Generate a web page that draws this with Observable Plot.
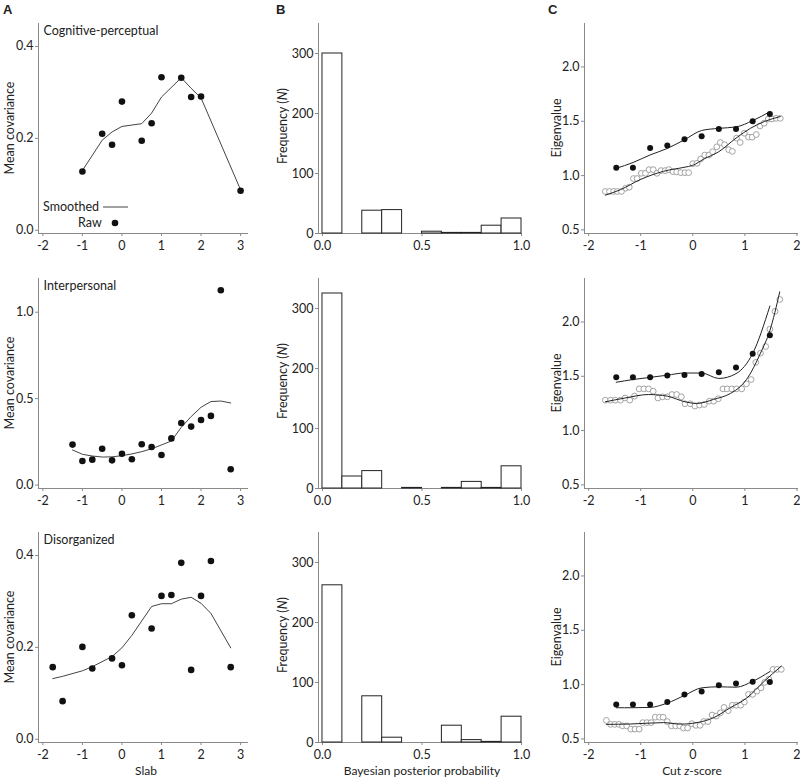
<!DOCTYPE html>
<html><head><meta charset="utf-8">
<script src="https://cdn.jsdelivr.net/npm/d3@7"></script>
<script src="https://cdn.jsdelivr.net/npm/@observablehq/plot@0.6"></script>
<style>
body{margin:0;background:#fff;}
#wrap{position:relative;width:800px;height:778px;overflow:hidden;font-family:Lato,sans-serif;color:#222;background:#fff;}
.lbl{position:absolute;font-size:12.5px;white-space:nowrap;transform:translate(-50%,-50%);line-height:1;}
.xl{font-size:12px;}
.rot{transform:translate(-50%,-50%) rotate(-90deg);}
.letter{position:absolute;font:bold 13px "Liberation Sans",Arial,sans-serif;line-height:1;}
.leg{position:absolute;font-size:12.5px;line-height:1;transform:translateY(-50%);white-space:nowrap;}
</style></head><body><div id="wrap"></div>
<script>
// ---------- Column A: mean covariance by slab ----------
const titlesA = ["Cognitive-perceptual", "Interpersonal", "Disorganized"];
const slabA1 = [-1, -0.5, -0.25, 0, 0.5, 0.75, 1, 1.5, 1.75, 2, 3];
const rawA1 = [0.128, 0.21, 0.186, 0.28, 0.195, 0.233, 0.333, 0.332, 0.29, 0.291, 0.086];
const smoothA1 = [0.13, 0.196, 0.214, 0.226, 0.232, 0.255, 0.29, 0.332, 0.309, 0.288, 0.088];

const slabA2 = [-1.25, -1, -0.75, -0.5, -0.25, 0, 0.25, 0.5, 0.75, 1, 1.25, 1.5, 1.75, 2, 2.25, 2.5, 2.75];
const rawA2 = [0.234, 0.139, 0.147, 0.21, 0.143, 0.181, 0.149, 0.236, 0.22, 0.174, 0.27, 0.359, 0.338, 0.376, 0.4, 1.127, 0.091];
const smoothA2 = [0.203, 0.178, 0.168, 0.162, 0.163, 0.17, 0.18, 0.193, 0.21, 0.232, 0.255, 0.334, 0.396, 0.45, 0.483, 0.486, 0.475];

const slabA3 = [-1.75, -1.5, -1, -0.75, -0.25, 0, 0.25, 0.75, 1, 1.25, 1.5, 1.75, 2, 2.25, 2.75];
const rawA3 = [0.157, 0.083, 0.201, 0.154, 0.176, 0.161, 0.27, 0.241, 0.312, 0.314, 0.384, 0.151, 0.312, 0.388, 0.157];
const smoothA3 = [0.132, 0.137, 0.149, 0.158, 0.18, 0.199, 0.226, 0.289, 0.295, 0.295, 0.305, 0.309, 0.296, 0.274, 0.199];

const ticksA_x = [-2, -1, 0, 1, 2, 3];
const ticksA1_y = [0, 0.2, 0.4];
const ticksA2_y = [0, 0.5, 1.0];
const ticksA3_y = [0, 0.2, 0.4];

// ---------- Column B: histograms of Bayesian posterior probability ----------
const binStart = [0, 0.1, 0.2, 0.3, 0.4, 0.5, 0.6, 0.7, 0.8, 0.9];
const binWidth = 0.1;
const freqB1 = [300, 0, 38, 39, 0, 3, 1, 1, 13, 25];
const freqB2 = [325, 20, 29, 0, 1, 0, 1, 11, 1, 37];
const freqB3 = [262, 0, 77, 8, 0, 0, 28, 4, 1, 43];
const ticksB_x = [0, 0.5, 1.0];
const ticksB_y = [0, 100, 200, 300];

// ---------- Column C: eigenvalue by cut z-score ----------
const cutFilled = [-1.47, -1.15, -0.82, -0.49, -0.16, 0.17, 0.5, 0.83, 1.15, 1.48];
const eigFilledC1 = [1.073, 1.073, 1.253, 1.277, 1.335, 1.363, 1.43, 1.43, 1.5, 1.567];
const smoothFilledC1 = [1.067, 1.12, 1.19, 1.25, 1.33, 1.415, 1.435, 1.448, 1.506, 1.588];
const eigFilledC2 = [1.49, 1.49, 1.49, 1.506, 1.512, 1.52, 1.537, 1.58, 1.707, 1.878];
const smoothFilledC2 = [1.445, 1.47, 1.49, 1.51, 1.53, 1.53, 1.48, 1.524, 1.71, 2.146];
const eigFilledC3 = [0.817, 0.817, 0.817, 0.84, 0.909, 0.936, 0.994, 1.009, 1.027, 1.024];
const smoothFilledC3 = [0.787, 0.787, 0.79, 0.83, 0.9, 0.97, 0.98, 0.976, 1.03, 1.12];

const cutOpenC1 = [-1.68,-1.6,-1.52,-1.45,-1.37,-1.29,-1.22,-1.14,-1.07,-0.99,-0.91,-0.84,-0.76,-0.69,-0.61,-0.53,-0.46,-0.38,-0.31,-0.23,-0.15,-0.08,0,0.08,0.15,0.23,0.31,0.38,0.46,0.53,0.61,0.69,0.76,0.84,0.91,0.99,1.07,1.14,1.22,1.29,1.37,1.45,1.52,1.6,1.68];
const eigOpenC1 = [0.854,0.854,0.854,0.854,0.854,0.884,0.893,0.973,0.973,1.021,1.021,1.055,1.055,1.021,1.046,1.046,1.055,1.037,1.034,1.027,1.027,1.027,1.11,1.113,1.152,1.189,1.189,1.22,1.265,1.305,1.284,1.238,1.223,1.345,1.305,1.39,1.354,1.354,1.378,1.457,1.482,1.521,1.521,1.527,1.527];
const cutOpenSmoothC1 = [-1.68, -1.39, -1.01, -0.56, -0.17, 0, 0.21, 0.5, 0.83, 1.11, 1.37, 1.68];
const smoothOpenC1 = [0.82, 0.87, 0.963, 1.04, 1.076, 1.095, 1.152, 1.22, 1.345, 1.436, 1.497, 1.543];

const cutOpenC2 = [-1.68,-1.58,-1.49,-1.39,-1.30,-1.21,-1.12,-1.03,-0.94,-0.85,-0.76,-0.67,-0.58,-0.49,-0.40,-0.31,-0.22,-0.15,-0.05,0.04,0.13,0.22,0.32,0.40,0.49,0.58,0.66,0.75,0.84,0.94,1.03,1.12,1.21,1.30,1.40,1.48,1.58,1.67];
const eigOpenC2 = [1.28,1.28,1.28,1.28,1.30,1.28,1.317,1.384,1.384,1.384,1.363,1.30,1.311,1.311,1.332,1.332,1.311,1.247,1.247,1.226,1.235,1.24,1.271,1.271,1.293,1.384,1.384,1.384,1.384,1.384,1.43,1.47,1.628,1.713,1.774,1.933,2.098,2.207];
const cutOpenSmoothC2 = [-1.68, -1.3, -0.85, -0.49, -0.15, 0.08, 0.4, 0.72, 0.92, 1.03, 1.3, 1.48, 1.67];
const smoothOpenC2 = [1.265, 1.30, 1.332, 1.317, 1.265, 1.25, 1.287, 1.341, 1.409, 1.47, 1.713, 1.92, 2.277];

const cutOpenC3 = [-1.66,-1.58,-1.50,-1.42,-1.35,-1.27,-1.19,-1.11,-1.03,-0.96,-0.88,-0.80,-0.72,-0.64,-0.57,-0.49,-0.41,-0.33,-0.25,-0.18,-0.10,-0.02,0.06,0.14,0.21,0.29,0.37,0.45,0.53,0.60,0.68,0.76,0.84,0.92,0.99,1.07,1.15,1.23,1.31,1.38,1.46,1.54,1.62,1.70];
const eigOpenC3 = [0.67,0.634,0.634,0.634,0.62,0.62,0.59,0.59,0.59,0.65,0.65,0.65,0.70,0.70,0.70,0.66,0.62,0.62,0.62,0.60,0.60,0.64,0.625,0.625,0.66,0.66,0.72,0.71,0.74,0.79,0.76,0.81,0.81,0.81,0.84,0.91,0.91,0.94,0.97,1.02,1.05,1.14,1.14,1.14];
const cutOpenSmoothC3 = [-1.66, -1.2, -0.56, -0.24, 0.08, 0.4, 0.72, 1.04, 1.37, 1.7];
const smoothOpenC3 = [0.634, 0.637, 0.65, 0.636, 0.65, 0.695, 0.787, 0.878, 1.03, 1.17];

const ticksC_x = [-2, -1, 0, 1, 2];
const ticksC_y = [0.5, 1.0, 1.5, 2.0];

// ---------- layout ----------
const wrap = document.getElementById("wrap");
const axisGrey = "#8a8a8a";
const textCol = "#222";
const fmtX = d => d < 0 ? "-" + Math.abs(d) : String(d);
const fmt1 = d3.format(".1f");
const fmt0 = d3.format("d");

const rows = [
  {top: 0, height: 255, mt: 23, mb: 22},
  {top: 255, height: 255, mt: 23, mb: 22},
  {top: 510, height: 268, mt: 22, mb: 36}
];
const cols = {
  A: {left: 0, width: 265, ml: 38, mr: 17, xDomain: [-2.11, 3.2], xTicks: ticksA_x, xFmt: fmtX},
  B: {left: 265, width: 265, ml: 53, mr: 9, xDomain: [-0.02, 1.0], xTicks: ticksB_x, xFmt: fmt1},
  C: {left: 530, width: 270, ml: 54, mr: 2, xDomain: [-2.08, 2.03], xTicks: ticksC_x, xFmt: fmtX}
};

function panel(col, row, yDomain, yTicks, yFmt, marks) {
  const p = Plot.plot({
    width: col.width, height: row.height,
    marginTop: row.mt, marginBottom: row.mb, marginLeft: col.ml, marginRight: col.mr,
    style: {fontFamily: "Lato, sans-serif", fontSize: "12.5px", color: textCol, background: "transparent", overflow: "visible"},
    x: {domain: col.xDomain},
    y: {domain: yDomain},
    marks: [
      Plot.ruleX([col.xDomain[0]], {stroke: axisGrey, strokeWidth: 1}),
      Plot.ruleY([yDomain[0]], {stroke: axisGrey, strokeWidth: 1}),
      Plot.axisX({ticks: col.xTicks, tickFormat: col.xFmt, tickSize: 3, tickPadding: 5, stroke: axisGrey, fill: textCol, label: null}),
      Plot.axisY({ticks: yTicks, tickFormat: yFmt, tickSize: 3, tickPadding: 2, stroke: axisGrey, fill: textCol, label: null}),
      ...marks
    ]
  });
  p.style.position = "absolute";
  p.style.left = col.left + "px";
  p.style.top = row.top + "px";
  wrap.appendChild(p);
}

function marksA(title, xs, raw, smooth) {
  const pts = xs.map((x, i) => ({x, raw: raw[i], sm: smooth[i]}));
  return [
    Plot.line(pts, {x: "x", y: "sm", stroke: "#444", strokeWidth: 1}),
    Plot.dot(pts, {x: "x", y: "raw", r: 3.3, fill: "#111", stroke: "none"}),
    Plot.text([title], {text: d => d, frameAnchor: "top-left", textAnchor: "start", lineAnchor: "top", dx: 5, dy: 3, fill: textCol, fontSize: 12.5})
  ];
}
function marksB(freq) {
  const bins = binStart.map((b, i) => ({x1: b, x2: b + binWidth, n: freq[i]}));
  return [Plot.rectY(bins, {x1: "x1", x2: "x2", y: "n", fill: "white", stroke: "#222", strokeWidth: 1})];
}
function marksC(fy, fs, ox, oy, osx, osy) {
  const filled = cutFilled.map((x, i) => ({x, y: fy[i], s: fs[i]}));
  const open = ox.map((x, i) => ({x, y: oy[i]}));
  const openS = osx.map((x, i) => ({x, y: osy[i]}));
  return [
    Plot.dot(open, {x: "x", y: "y", r: 2.9, fill: "white", stroke: "#999", strokeWidth: 0.9}),
    Plot.line(openS, {x: "x", y: "y", stroke: "#222", strokeWidth: 1, curve: "monotone-x"}),
    Plot.line(filled, {x: "x", y: "s", stroke: "#222", strokeWidth: 1, curve: "monotone-x"}),
    Plot.dot(filled, {x: "x", y: "y", r: 3, fill: "#111", stroke: "none"})
  ];
}

panel(cols.A, rows[0], [-0.007, 0.45], ticksA1_y, fmt1, marksA(titlesA[0], slabA1, rawA1, smoothA1));
panel(cols.A, rows[1], [-0.02, 1.195], ticksA2_y, fmt1, marksA(titlesA[1], slabA2, rawA2, smoothA2));
panel(cols.A, rows[2], [-0.007, 0.45], ticksA3_y, fmt1, marksA(titlesA[2], slabA3, rawA3, smoothA3));

panel(cols.B, rows[0], [0, 350], ticksB_y, fmt0, marksB(freqB1));
panel(cols.B, rows[1], [0, 350], ticksB_y, fmt0, marksB(freqB2));
panel(cols.B, rows[2], [0, 350], ticksB_y, fmt0, marksB(freqB3));

panel(cols.C, rows[0], [0.467, 2.4], ticksC_y, fmt1, marksC(eigFilledC1, smoothFilledC1, cutOpenC1, eigOpenC1, cutOpenSmoothC1, smoothOpenC1));
panel(cols.C, rows[1], [0.467, 2.4], ticksC_y, fmt1, marksC(eigFilledC2, smoothFilledC2, cutOpenC2, eigOpenC2, cutOpenSmoothC2, smoothOpenC2));
panel(cols.C, rows[2], [0.467, 2.4], ticksC_y, fmt1, marksC(eigFilledC3, smoothFilledC3, cutOpenC3, eigOpenC3, cutOpenSmoothC3, smoothOpenC3));

// ---------- HTML text: letters, axis titles, legend ----------
function addDiv(cls, html, left, top) {
  const d = document.createElement("div");
  d.className = cls;
  d.innerHTML = html;
  d.style.left = left + "px";
  d.style.top = top + "px";
  wrap.appendChild(d);
  return d;
}
addDiv("letter", "A", 3, 3);
addDiv("letter", "B", 276, 3);
addDiv("letter", "C", 548, 3);

const yLabelCenters = [128, 383, 637];
yLabelCenters.forEach(cy => {
  addDiv("lbl rot", "Mean covariance", 10, cy);
  addDiv("lbl rot", "Frequency (<i>N</i>)", 283, cy - 2);
  addDiv("lbl rot", "Eigenvalue", 557, cy);
});
addDiv("lbl xl", "Slab", 146, 771);
addDiv("lbl xl", "Bayesian posterior probability", 422, 771);
addDiv("lbl xl", "Cut <i>z</i>-score", 692, 771);

// legend (panel A, top row)
addDiv("leg", "Smoothed", 43, 207);
addDiv("leg", "Raw", 78, 223);
const ns = "http://www.w3.org/2000/svg";
const lg = document.createElementNS(ns, "svg");
lg.setAttribute("width", "40"); lg.setAttribute("height", "30");
lg.style.position = "absolute"; lg.style.left = "100px"; lg.style.top = "200px";
lg.innerHTML = '<line x1="3" x2="28" y1="7" y2="7" stroke="#444" stroke-width="1"/><circle cx="15" cy="23" r="3.3" fill="#111"/>';
wrap.appendChild(lg);
</script></body></html>
